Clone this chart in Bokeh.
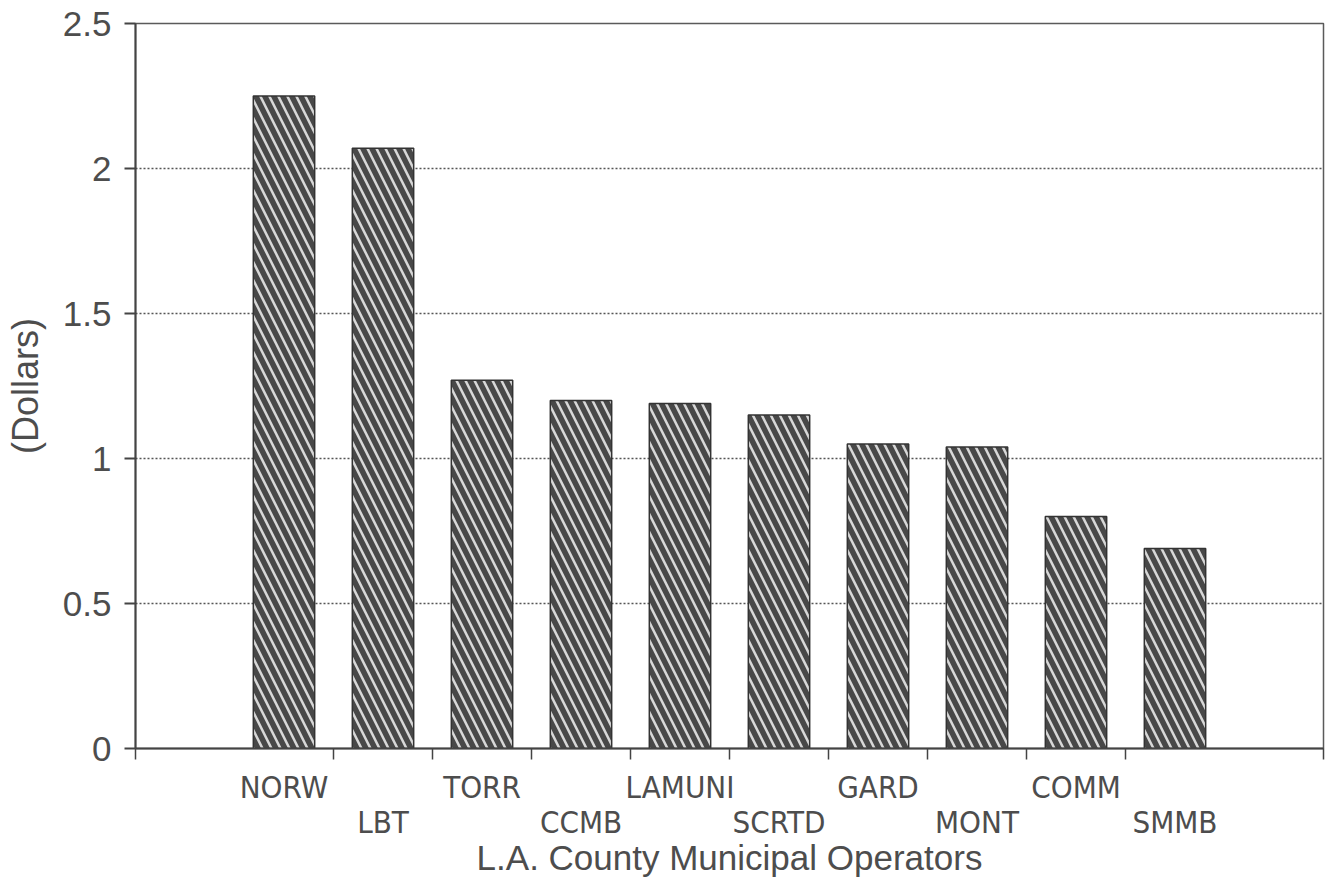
from bokeh.plotting import figure
from bokeh.layouts import column
from bokeh.models import Range1d, FixedTicker, ColumnDataSource
from bokeh.core.properties import value
from bokeh.embed import file_html
from bokeh.resources import INLINE

# Average fare per operator (dollars)
operators = ["NORW", "LBT", "TORR", "CCMB", "LAMUNI", "SCRTD", "GARD", "MONT", "COMM", "SMMB"]
fares = [2.25, 2.07, 1.27, 1.20, 1.19, 1.15, 1.05, 1.04, 0.80, 0.69]
y_ticks = [0, 0.5, 1, 1.5, 2, 2.5]
y_tick_labels = ["0", "0.5", "1", "1.5", "2", "2.5"]
x_title = "L.A. County Municipal Operators"
y_title = "(Dollars)"

FONT = "Liberation Sans"
NARROW = "'DejaVu Sans Condensed', 'Liberation Sans', sans-serif"
INK = "#4d4d4d"
W = 1329
LEFT, RIGHT = 135, 6
TOP_H = 768

positions = list(range(1, len(operators) + 1))
x_range = Range1d(-0.5, len(operators) + 1.5)
src = ColumnDataSource(dict(x=positions, top=fares))

# ---- main bar panel ----
p = figure(width=W, height=TOP_H, output_backend="svg", toolbar_location=None,
           x_range=x_range, y_range=Range1d(0, 2.5),
           min_border_left=LEFT, min_border_right=RIGHT, min_border_top=23, min_border_bottom=20)
p.background_fill_color = "white"
p.border_fill_color = "white"
p.outline_line_color = "#5a5a5a"
p.outline_line_width = 1.5

p.xgrid.grid_line_color = None
p.ygrid.ticker = FixedTicker(ticks=y_ticks)
p.ygrid.grid_line_color = "#555555"
p.ygrid.grid_line_dash = "2 2"
p.ygrid.grid_line_width = 1.5

p.vbar(x="x", top="top", width=0.62, source=src, fill_color="#484848",
       line_color="#333333", line_width=1.5,
       hatch_pattern="left_diagonal_line", hatch_color="#d8d8d8",
       hatch_weight=2.5, hatch_scale=18)

p.yaxis.ticker = FixedTicker(ticks=y_ticks)
p.yaxis.major_label_overrides = {t: s for t, s in zip(y_ticks, y_tick_labels)}
p.yaxis.major_label_text_font = FONT
p.yaxis.major_label_text_font_size = "35px"
p.yaxis.major_label_text_color = INK
p.yaxis.major_label_standoff = 13
p.yaxis.major_tick_in = 0
p.yaxis.major_tick_out = 11
p.yaxis.major_tick_line_color = "#444444"
p.yaxis.major_tick_line_width = 2
p.yaxis.minor_tick_line_color = None
p.yaxis.axis_line_color = "#444444"
p.yaxis.axis_line_width = 2
p.yaxis.axis_label = y_title
p.yaxis.axis_label_text_font = FONT
p.yaxis.axis_label_text_font_size = "36px"
p.yaxis.axis_label_text_font_style = "normal"
p.yaxis.axis_label_text_color = INK
p.yaxis.axis_label_standoff = 14

# tick marks sit between the bars; names go in the strip below
x_ticks = [-0.5] + [k + 0.5 for k in positions[:-1]] + [len(operators) + 1.5]
p.xaxis.ticker = FixedTicker(ticks=x_ticks)
p.xaxis.major_label_overrides = {t: "" for t in x_ticks}
p.xaxis.major_label_text_font_size = "0px"
p.xaxis.major_label_standoff = 0
p.xaxis.major_tick_in = 0
p.xaxis.major_tick_out = 11
p.xaxis.major_tick_line_color = "#444444"
p.xaxis.major_tick_line_width = 1.5
p.xaxis.minor_tick_line_color = None
p.xaxis.axis_line_color = "#444444"
p.xaxis.axis_line_width = 2

# ---- category names (staggered in two rows) and axis title ----
H2 = 893 - TOP_H
q = figure(width=W, height=H2, output_backend="svg", toolbar_location=None,
           x_range=x_range, y_range=Range1d(H2, 0),
           min_border_left=LEFT, min_border_right=RIGHT, min_border_top=0, min_border_bottom=0)
q.axis.visible = False
q.grid.visible = False
q.outline_line_color = None
q.background_fill_color = "white"
q.border_fill_color = "white"

row_y = [18 if i % 2 == 0 else 53 for i in range(len(operators))]
q.text(x=positions, y=row_y, text=operators, text_align="center", text_baseline="middle",
       text_font=value(NARROW), text_font_size="31px", text_color=INK)
q.text(x=[(x_range.start + x_range.end) / 2], y=[89], text=[x_title], text_align="center",
       text_baseline="middle", text_font=value(FONT), text_font_size="35px", text_color=INK)

layout = column(p, q, spacing=0)
open("out.html", "w").write(file_html(layout, INLINE))
